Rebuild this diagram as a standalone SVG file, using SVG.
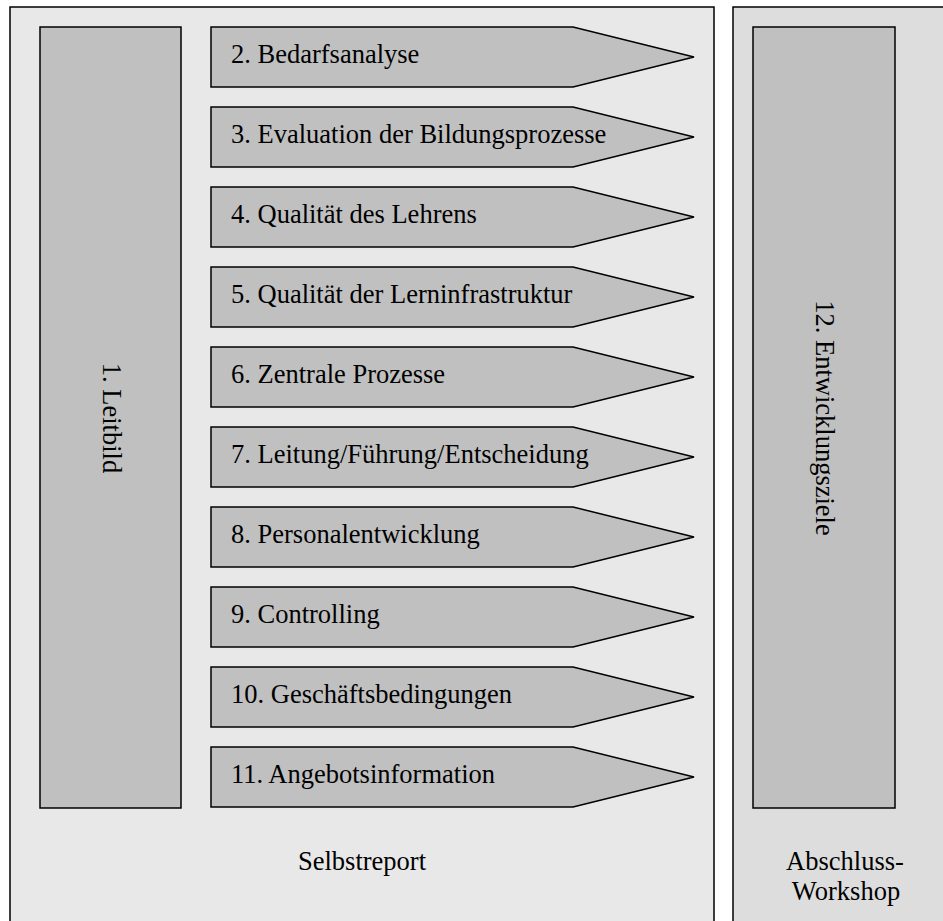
<svg xmlns="http://www.w3.org/2000/svg" width="943" height="921" viewBox="0 0 943 921">
<style>
.frame{stroke:#000;stroke-width:1.5}
.box{fill:#c0c0c0;stroke:#000;stroke-width:1.5}
.t{font-family:"Liberation Serif","Times New Roman",serif;font-size:26.5px;fill:#000}
.c{text-anchor:middle}
</style>
<defs>
<polygon id="arrow" class="box" points="211,27 573,27 694,57 573,87 211,87"/>
</defs>
<rect width="943" height="921" fill="#fff"/>
<g id="selbstreport">
<rect class="frame" x="10" y="7" width="704" height="930" fill="#e8e8e8"/>
<text class="t c" x="362" y="870">Selbstreport</text>
</g>
<g id="workshop">
<rect class="frame" x="733" y="7" width="230" height="930" fill="#dddddd"/>
<text class="t c" x="845" y="870">Abschluss-</text>
<text class="t c" x="846" y="900">Workshop</text>
</g>
<g id="n1">
<rect class="box" x="40" y="27" width="141" height="781"/>
<text class="t c" transform="translate(103,418) rotate(90)">1. Leitbild</text>
</g>
<g id="n2"><use href="#arrow"/><text class="t" x="231" y="63">2. Bedarfsanalyse</text></g>
<g id="n3"><use href="#arrow" y="80"/><text class="t" x="231" y="143">3. Evaluation der Bildungsprozesse</text></g>
<g id="n4"><use href="#arrow" y="160"/><text class="t" x="231" y="223">4. Qualität des Lehrens</text></g>
<g id="n5"><use href="#arrow" y="240"/><text class="t" x="231" y="303">5. Qualität der Lerninfrastruktur</text></g>
<g id="n6"><use href="#arrow" y="320"/><text class="t" x="231" y="383">6. Zentrale Prozesse</text></g>
<g id="n7"><use href="#arrow" y="400"/><text class="t" x="231" y="463">7. Leitung/Führung/Entscheidung</text></g>
<g id="n8"><use href="#arrow" y="480"/><text class="t" x="231" y="543">8. Personalentwicklung</text></g>
<g id="n9"><use href="#arrow" y="560"/><text class="t" x="231" y="623">9. Controlling</text></g>
<g id="n10"><use href="#arrow" y="640"/><text class="t" x="231" y="703">10. Geschäftsbedingungen</text></g>
<g id="n11"><use href="#arrow" y="720"/><text class="t" x="231" y="783">11. Angebotsinformation</text></g>
<g id="n12">
<rect class="box" x="753" y="27" width="142" height="781"/>
<text class="t c" transform="translate(816,418) rotate(90)">12. Entwicklungsziele</text>
</g>
<g id="connectors"/>
</svg>
